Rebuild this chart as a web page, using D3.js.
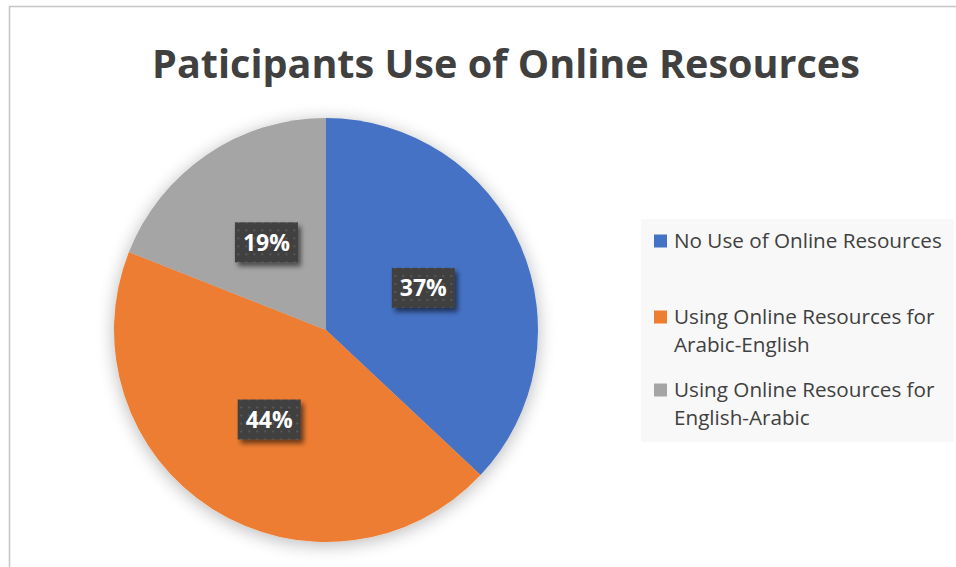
<!DOCTYPE html>
<html>
<head>
<meta charset="utf-8">
<script src="https://cdn.jsdelivr.net/npm/d3@7/dist/d3.min.js"></script>
<style>
  html, body { margin: 0; padding: 0; background: #ffffff; }
  svg { display: block; }
  text { font-family: "Open Sans", "Noto Sans", sans-serif; }
</style>
</head>
<body>
<svg id="chart" width="956" height="567"></svg>
<script>
// Chart data
const title = "Paticipants Use of Online Resources";
const categories = [
  "No Use of Online Resources",
  "Using Online Resources for Arabic-English",
  "Using Online Resources for English-Arabic"
];
const legendLines = [
  ["No Use of Online Resources"],
  ["Using Online Resources for", "Arabic-English"],
  ["Using Online Resources for", "English-Arabic"]
];
const values = [37, 44, 19];
const colors = ["#4472C4", "#ED7D31", "#A5A5A5"];

const svg = d3.select("#chart");
const defs = svg.append("defs");

// soft glow around the pie
const glow = defs.append("filter").attr("id", "pieShadow")
  .attr("x", "-20%").attr("y", "-20%").attr("width", "140%").attr("height", "140%");
glow.append("feGaussianBlur").attr("in", "SourceAlpha").attr("stdDeviation", 9).attr("result", "b");
glow.append("feOffset").attr("in", "b").attr("dx", 0).attr("dy", 3).attr("result", "o");
glow.append("feComponentTransfer").attr("in", "o").attr("result", "s")
  .append("feFuncA").attr("type", "linear").attr("slope", 0.28);
const gm = glow.append("feMerge");
gm.append("feMergeNode").attr("in", "s");
gm.append("feMergeNode").attr("in", "SourceGraphic");

// drop shadow for label boxes
const lblSh = defs.append("filter").attr("id", "lblShadow")
  .attr("x", "-30%").attr("y", "-30%").attr("width", "160%").attr("height", "170%");
lblSh.append("feGaussianBlur").attr("in", "SourceAlpha").attr("stdDeviation", 2.5).attr("result", "b");
lblSh.append("feOffset").attr("in", "b").attr("dx", 3).attr("dy", 4).attr("result", "o");
lblSh.append("feComponentTransfer").attr("in", "o").attr("result", "s")
  .append("feFuncA").attr("type", "linear").attr("slope", 0.55);
const lm = lblSh.append("feMerge");
lm.append("feMergeNode").attr("in", "s");
lm.append("feMergeNode").attr("in", "SourceGraphic");

// dotted fill for label boxes
const pat = defs.append("pattern").attr("id", "dots")
  .attr("patternUnits", "userSpaceOnUse").attr("width", 8).attr("height", 8);
pat.append("rect").attr("width", 8).attr("height", 8).attr("fill", "#3f3f3f");
pat.append("rect").attr("x", 3).attr("y", 3).attr("width", 2).attr("height", 2).attr("fill", "#585858");

// chart frame
svg.append("rect")
  .attr("x", 9.5).attr("y", 6.5).attr("width", 1000).attr("height", 1000)
  .attr("fill", "none").attr("stroke", "#c4c4c4").attr("stroke-width", 1.5);

// title, sized to span its area
const titleText = svg.append("text")
  .attr("x", 506).attr("y", 78)
  .attr("text-anchor", "middle")
  .attr("font-weight", 700)
  .attr("font-size", 40)
  .attr("fill", "#404040")
  .text(title);
{
  const w = titleText.node().getComputedTextLength();
  titleText.attr("font-size", 40 * 708 / w);
}

// pie
const cx = 326, cy = 330, r = 212;
const pie = d3.pie().sort(null).value(d => d)
  .startAngle(0).endAngle(2 * Math.PI);
const arcs = pie(values);
const arc = d3.arc().innerRadius(0).outerRadius(r);
const labelArc = d3.arc().innerRadius(0).outerRadius(r);

const g = svg.append("g").attr("transform", `translate(${cx},${cy})`);
g.append("g").attr("filter", "url(#pieShadow)")
  .selectAll("path").data(arcs).join("path")
  .attr("d", arc)
  .attr("fill", (d, i) => colors[i]);

// value labels
const lblW = 63, lblH = 40;
const lbl = g.selectAll("g.lbl").data(arcs).join("g")
  .attr("class", "lbl")
  .attr("transform", d => {
    const [x, y] = labelArc.centroid(d);
    return `translate(${x},${y})`;
  });
lbl.append("rect")
  .attr("x", -lblW / 2).attr("y", -lblH / 2)
  .attr("width", lblW).attr("height", lblH)
  .attr("fill", "url(#dots)")
  .attr("filter", "url(#lblShadow)");
lbl.append("text")
  .attr("text-anchor", "middle")
  .attr("dy", "0.36em")
  .attr("font-weight", 700)
  .attr("font-size", 23)
  .attr("fill", "#ffffff")
  .text(d => d.data + "%");

// legend
svg.append("rect")
  .attr("x", 641).attr("y", 219).attr("width", 313).attr("height", 223)
  .attr("fill", "#f8f8f8");
const legendY = [241, 317, 390];
const lineGap = 28;
const lg = svg.append("g").selectAll("g").data(categories).join("g")
  .attr("transform", (d, i) => `translate(654,${legendY[i]})`);
lg.append("rect")
  .attr("x", 0).attr("y", -6.5).attr("width", 13).attr("height", 13)
  .attr("fill", (d, i) => colors[i]);
const lt = lg.append("text")
  .attr("x", 20)
  .attr("font-size", 20)
  .attr("fill", "#404040");
lt.selectAll("tspan").data((d, i) => legendLines[i]).join("tspan")
  .attr("x", 20)
  .attr("y", (d, j) => j * lineGap)
  .attr("dy", "0.35em")
  .text(d => d);
{
  // scale legend font so the first entry spans its measured width
  const first = lt.nodes()[0];
  const w = first.getComputedTextLength();
  const fs = 20 * 268 / w;
  lt.attr("font-size", fs);
}
</script>
</body>
</html>
